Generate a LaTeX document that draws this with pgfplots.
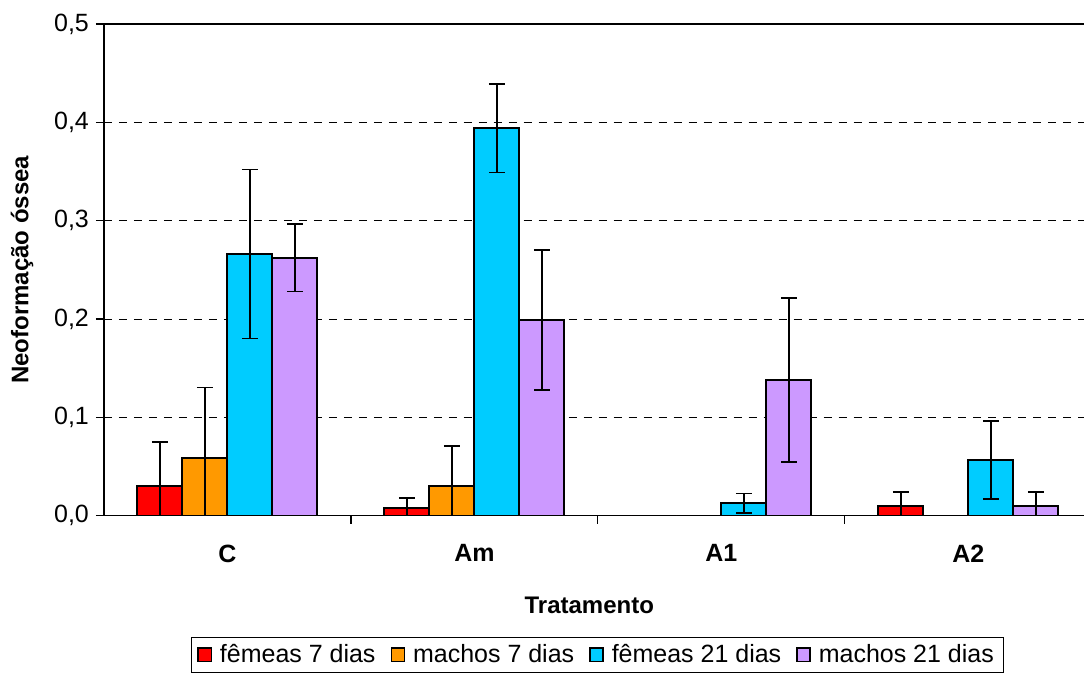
\documentclass[border=0pt]{standalone}
\usepackage{fontspec}
\setmainfont{Liberation Sans}
\usepackage{pgfplots}
\pgfplotsset{compat=1.18}
\definecolor{cRed}{HTML}{FF0000}
\definecolor{cOrange}{HTML}{FF9900}
\definecolor{cCyan}{HTML}{00CCFF}
\definecolor{cPurple}{HTML}{CC99FF}
\begin{document}
\begin{tikzpicture}
\pgfplotsset{eb/.style={
  draw=black, line width=1pt,
  error bars/y dir=both, error bars/y explicit,
  error bars/error bar style={line width=0.8pt, black},
  error bars/error mark options={rotate=90, mark size=4pt, line width=0.8pt, black}}}
\begin{axis}[
  scale only axis, width=490.5pt, height=246pt,
  xmin=-0.5, xmax=3.47, ymin=0, ymax=0.5,
  axis x line*=bottom, axis y line*=left,
  axis line style={-, line width=0.6pt, black},
  ybar=0pt, bar width=22.5pt,
  xtick={0.5,1.5,2.5}, xticklabels={},
  extra x ticks={0,1,2,3}, extra x tick labels={C,Am,A1,A2},
  extra x tick style={major tick length=0pt, grid=none,
    tick label style={font=\fontsize{12.5}{15}\selectfont\bfseries, yshift=-11pt}},
  ytick={0,0.1,0.2,0.3,0.4},
  extra y ticks={0.5},
  extra y tick style={major grid style={solid, black, line width=0.6pt}},
  ymajorgrids, major grid style={black, line width=0.5pt, dash pattern=on 4pt off 3.5pt},
  tick align=outside, major tick length=4pt,
  tick style={black, line width=0.6pt},
  yticklabel style={/pgf/number format/.cd, use comma, fixed, fixed zerofill, precision=1, assume math mode=true},
  ticklabel style={font=\fontsize{12.5}{15}\selectfont},
  xlabel={Tratamento},
  xlabel style={font=\fontsize{12}{14}\selectfont\bfseries, at={(axis description cs:0.495,0)}, anchor=center, yshift=-45pt},
  ylabel={Neoformação óssea},
  ylabel style={font=\fontsize{12}{14}\selectfont\bfseries, at={(axis description cs:-0.0836,0.5)}, anchor=center},
  legend style={at={(0.5035,-0.2825)}, anchor=center, legend columns=4, draw=black, line width=0.5pt,
    font=\fontsize{12.5}{15}\selectfont, inner xsep=3pt, inner ysep=1.5pt,
    /tikz/every odd column/.append style={column sep=2pt},
    /tikz/every even column/.append style={column sep=5.5pt}},
  legend image code/.code={\draw[#1, draw=black, line width=0.7pt] (0pt,-3.3pt) rectangle (6.6pt,3.3pt);},
]
\addplot+[eb, fill=cRed] coordinates {(0,0.0305) +- (0,0.0444) (1,0.0078) +- (0,0.0102) (2,0) (3,0.0098) +- (0,0.0146)};
\addplot+[eb, fill=cOrange] coordinates {(0,0.0586) +- (0,0.0716) (1,0.0305) +- (0,0.0406) (2,0) (3,0)};
\addplot+[eb, fill=cCyan] coordinates {(0,0.266) +- (0,0.086) (1,0.394) +- (0,0.045) (2,0.0125) +- (0,0.010) (3,0.0566) +- (0,0.0396)};
\addplot+[eb, fill=cPurple] coordinates {(0,0.2622) +- (0,0.0344) (1,0.1989) +- (0,0.071) (2,0.1382) +- (0,0.0833) (3,0.0098) +- (0,0.0146)};
\legend{fêmeas 7 dias, machos 7 dias, fêmeas 21 dias, machos 21 dias}
\end{axis}
\path ([shift={(-52pt,-79pt)}]current axis.south west) rectangle ([shift={(0pt,12pt)}]current axis.north east);
\end{tikzpicture}
\end{document}
